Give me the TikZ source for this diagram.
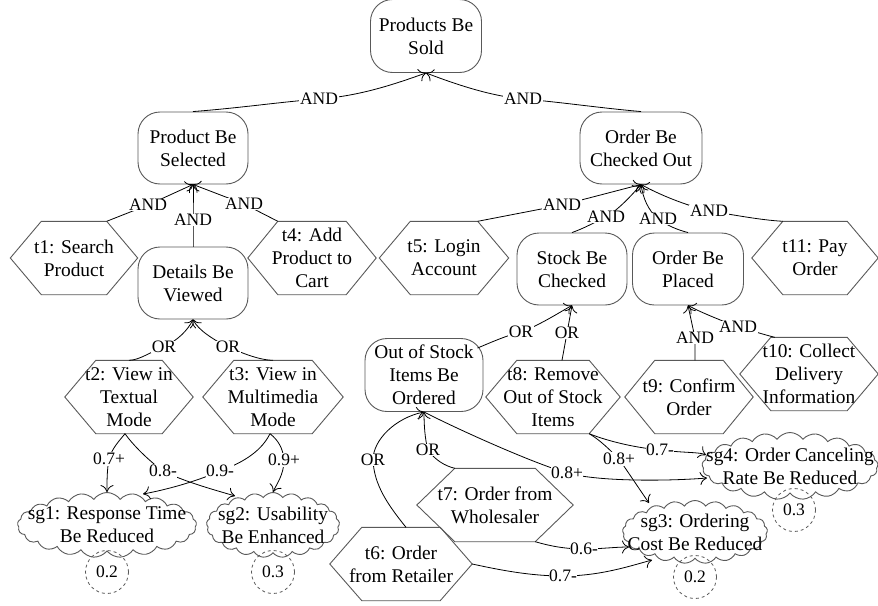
\documentclass[tikz,border=0pt]{standalone}
\usepackage{fontspec}
\setmainfont{LiberationSerif}[Extension=.ttf, UprightFont=*-Regular, BoldFont=*-Bold, ItalicFont=*-Italic, BoldItalicFont=*-BoldItalic]
\usetikzlibrary{shapes.symbols,arrows.meta}
\newcommand\nodefont{\rmfamily\fontsize{19.4}{23}\selectfont}
\newcommand\lblfont{\rmfamily\fontsize{17.5}{20}\selectfont}
\tikzset{
  goal/.style={draw=black!65, line width=0.9pt, rounded corners=22pt, fill=white, align=center, inner sep=0pt, font=\nodefont},
  task/.style={inner sep=0pt, align=center, font=\nodefont, minimum height=73pt},
  hexline/.style={draw=black!65, line width=0.9pt},
  soft/.style={cloud, cloud puffs=21, cloud puff arc=110, cloud ignores aspect, draw=black!65, line width=0.9pt, fill=white, inner sep=0pt},
  stxt/.style={align=center, font=\nodefont, inner sep=0pt},
  prio/.style={circle, draw=black!65, dashed, line width=0.8pt, minimum size=43pt, inner sep=0pt, font=\lblfont},
  lbl/.style={fill=white, inner sep=0.6pt, font=\lblfont},
  arr/.style={-{Computer Modern Rightarrow[length=7pt,width=13pt]}, line width=0.8pt, black},
}
\newcommand\hexnode[6]{%
  \node[task, minimum width=#4pt] (#1) at (#2,#3) {#6};
  \draw[hexline] (#1.west) -- ([xshift=#5pt]#1.north west) -- ([xshift=-#5pt]#1.north east) -- (#1.east) -- ([xshift=-#5pt]#1.south east) -- ([xshift=#5pt]#1.south west) -- cycle;}
\begin{document}
\begin{tikzpicture}[x=1pt,y=-1pt]
\useasboundingbox (0,0) rectangle (878,605);
% goals
\node[goal, minimum width=111pt, minimum height=73pt] (PS) at (426,36) {Products Be\\Sold};
\node[goal, minimum width=110pt, minimum height=72pt] (PBS) at (193,148) {Product Be\\Selected};
\node[goal, minimum width=122pt, minimum height=72pt] (OBCO) at (641,148) {Order Be\\Checked Out};
\node[goal, minimum width=110pt, minimum height=72pt] (DBV) at (193,283) {Details Be\\Viewed};
\node[goal, minimum width=110pt, minimum height=72pt] (SBC) at (572,269) {Stock Be\\Checked};
\node[goal, minimum width=111pt, minimum height=72pt] (OBP) at (688,269) {Order Be\\Placed};
\node[goal, minimum width=118pt, minimum height=73pt] (OoS) at (424,375) {Out of Stock\\Items Be\\Ordered};
% tasks
\hexnode{t1}{74}{258}{127}{31}{t1: Search\\Product}
\hexnode{t4}{312}{258}{128}{30}{t4: Add\\Product to\\Cart}
\hexnode{t5}{444}{258}{129}{31}{t5: Login\\Account}
\hexnode{t11}{815}{258}{126}{31}{t11: Pay\\Order}
\hexnode{t2}{129}{397}{128}{31}{t2: View in\\Textual\\Mode}
\hexnode{t3}{273}{397}{140}{31}{t3: View in\\Multimedia\\Mode}
\hexnode{t8}{553}{397}{134}{31}{t8: Remove\\Out of Stock\\Items}
\hexnode{t9}{689}{397}{128}{30}{t9: Confirm\\Order}
\hexnode{t10}{809}{374}{138}{31}{t10: Collect\\Delivery\\Information}
\hexnode{t7}{495}{505}{156}{38}{t7: Order from\\Wholesaler}
\hexnode{t6}{401}{564}{142}{32}{t6: Order\\from Retailer}
% softgoals
\node[soft, minimum width=179pt, minimum height=65pt] (sg1) at (107,525) {};
\node[soft, minimum width=133pt, minimum height=65pt] (sg2) at (273,525) {};
\node[soft, minimum width=145pt, minimum height=63pt] (sg3) at (695,532) {};
\node[soft, minimum width=176pt, minimum height=67pt] (sg4) at (790,466) {};
\node[stxt] (sg1t) at (sg1.center) {sg1: Response Time\\Be Reduced};
\node[stxt] (sg2t) at (sg2.center) {sg2: Usability\\Be Enhanced};
\node[stxt] (sg3t) at (sg3.center) {sg3: Ordering\\Cost Be Reduced};
\node[stxt] (sg4t) at (sg4.center) {sg4: Order Canceling\\Rate Be Reduced};
% priorities
\node[prio] (p1) at (107,572) {0.2};
\node[prio] (p2) at (273,572) {0.3};
\node[prio] (p3) at (695,577) {0.2};
\node[prio] (p4) at (794,510) {0.3};
% label points
\coordinate (l1) at (319,99);
\coordinate (l2) at (523,99);
\coordinate (l3) at (148,205);
\coordinate (l4) at (193,220);
\coordinate (l5) at (244,204);
\coordinate (l6) at (562,205);
\coordinate (l7) at (606,217);
\coordinate (l8) at (658,219);
\coordinate (l9) at (709,211);
\coordinate (l10) at (164,347);
\coordinate (l11) at (228,347);
\coordinate (l12) at (521,332);
\coordinate (l13) at (567,333);
\coordinate (l14) at (695,338);
\coordinate (l15) at (738,327);
\coordinate (l16) at (373,460);
\coordinate (l17) at (428,450);
\coordinate (l18) at (109,459);
\coordinate (l19) at (163,471);
\coordinate (l20) at (220,471);
\coordinate (l21) at (284,460);
\coordinate (l22) at (660,450);
\coordinate (l23) at (619,459);
\coordinate (l24) at (567,473);
\coordinate (l25) at (584,549);
\coordinate (l26) at (563,576);
% decompositions
\draw[arr] (PBS.north) .. controls (240,108) and (280,102) .. (l1) .. controls (360,96) and (395,84) .. (PS.south);
\draw[arr] (OBCO.north) .. controls (600,108) and (560,102) .. (l2) .. controls (490,96) and (455,84) .. (PS.south);
\draw[arr] ([xshift=-31pt]t1.north east) -- (l3) -- (PBS.south);
\draw[arr] (DBV.north) -- (l4) -- (PBS.south);
\draw[arr] ([xshift=30pt]t4.north west) -- (l5) -- (PBS.south);
\draw[arr] ([xshift=-31pt]t5.north east) -- (l6) -- (OBCO.south);
\draw[arr] (SBC.north) .. controls (585,228) and (595,222) .. (l7) .. controls (618,210) and (632,195) .. (OBCO.south);
\draw[arr] (OBP.north) .. controls (678,230) and (668,226) .. (l8) .. controls (648,210) and (643,198) .. (OBCO.south);
\draw[arr] ([xshift=31pt]t11.north west) .. controls (760,220) and (735,215) .. (l9) .. controls (685,205) and (660,195) .. (OBCO.south);
\draw[arr] (t2.north) .. controls (140,360) and (150,352) .. (l10) .. controls (178,340) and (188,330) .. (DBV.south);
\draw[arr] (t3.north) .. controls (258,360) and (240,352) .. (l11) .. controls (214,340) and (198,330) .. (DBV.south);
\draw[arr] ([shift={(-6,10)}]OoS.north east) .. controls (492,342) and (505,336) .. (l12) .. controls (540,325) and (560,312) .. (SBC.south);
\draw[arr] ([xshift=9pt]t8.north) -- (l13) -- (SBC.south);
\draw[arr] ([xshift=6pt]t9.north) -- (l14) -- (OBP.south);
\draw[arr] ([xshift=35pt]t10.north west) .. controls (765,335) and (750,330) .. (l15) .. controls (720,320) and (700,312) .. (OBP.south);
\draw[arr] ([xshift=5pt]t6.north) .. controls (388,505) and (374,485) .. (l16) .. controls (373,440) and (395,418) .. (OoS.south);
\draw[arr] ([xshift=38pt]t7.north west) .. controls (445,466) and (435,460) .. (l17) .. controls (425,440) and (424,425) .. (OoS.south);
% contributions
\draw[arr] ([xshift=-4pt]t2.south) .. controls (120,440) and (112,448) .. (l18) .. controls (107,470) and (107,480) .. (sg1.north);
\draw[arr] ([xshift=-4pt]t2.south) .. controls (133,445) and (148,460) .. (l19) .. controls (185,482) and (215,490) .. ([shift={(-38,-29)}]sg2.center);
\draw[arr] ([xshift=-3pt]t3.south) .. controls (262,450) and (245,462) .. (l20) .. controls (195,482) and (165,490) .. ([shift={(36,-31)}]sg1.center);
\draw[arr] ([xshift=-3pt]t3.south) .. controls (278,440) and (283,448) .. (l21) .. controls (284,475) and (276,485) .. (sg2.north);
\draw[arr] ([xshift=-31pt]t8.south east) .. controls (605,440) and (630,447) .. (l22) .. controls (685,453) and (700,452) .. ([shift={(-84,-11)}]sg4.center);
\draw[arr] ([xshift=-31pt]t8.south east) .. controls (600,440) and (610,450) .. (l23) .. controls (628,472) and (640,490) .. ([shift={(-46,-29)}]sg3.center);
\draw[arr] (OoS.south) .. controls (455,428) and (530,462) .. (l24) .. controls (600,482) and (670,481) .. ([shift={(-83,12)}]sg4.center);
\draw[arr] ([xshift=-38pt]t7.south east) .. controls (550,546) and (565,549) .. (l25) .. controls (600,549) and (615,547) .. ([shift={(-66,15)}]sg3.center);
\draw[arr] (t6.east) .. controls (500,570) and (530,576) .. (l26) .. controls (600,576) and (630,566) .. ([shift={(-43,28)}]sg3.center);
% labels
\foreach \l/\t in {l1/AND,l2/AND,l3/AND,l4/AND,l5/AND,l6/AND,l7/AND,l8/AND,l9/AND,l10/OR,l11/OR,l12/OR,l13/OR,l14/AND,l15/AND,l16/OR,l17/OR,l18/0.7+,l19/0.8-,l20/0.9-,l21/0.9+,l22/0.7-,l23/0.8+,l24/0.8+,l25/0.6-,l26/0.7-}
  \node[lbl] (\l t) at (\l) {\t};
\end{tikzpicture}
\end{document}
